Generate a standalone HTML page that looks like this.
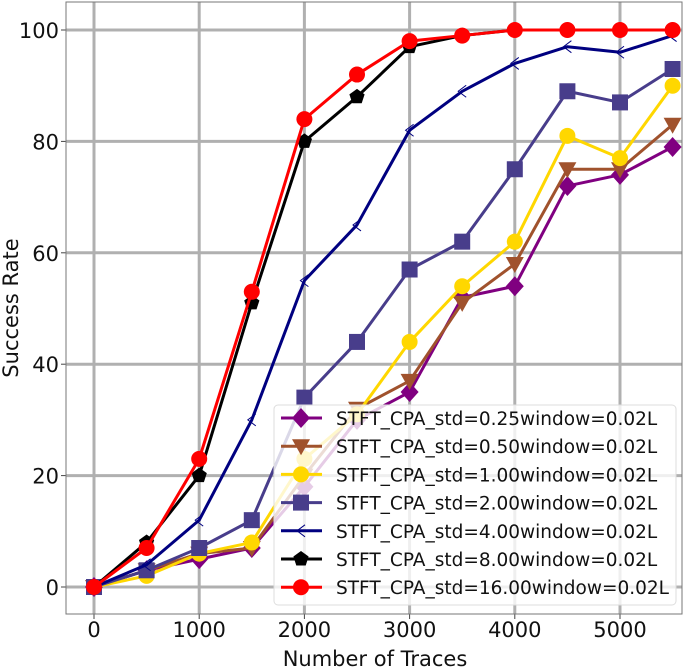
<!DOCTYPE html>
<html><head><meta charset="utf-8"><style>
html,body{margin:0;padding:0;background:#fff}
svg{display:block;font-family:"DejaVu Sans","Liberation Sans",sans-serif}
</style></head><body>
<svg id="chart" width="685" height="669" viewBox="0 0 685 669" xmlns="http://www.w3.org/2000/svg">
<g id="grid"></g>
<g id="axes"></g>
<g id="series"></g>
<g id="legend"></g>
<text x="375" y="666" font-size="21" text-anchor="middle" fill="#111">Number of Traces</text>
<text transform="translate(18,308) rotate(-90)" font-size="21" text-anchor="middle" fill="#111">Success Rate</text>
</svg>
<script>
const xValues = [0,500,1000,1500,2000,2500,3000,3500,4000,4500,5000,5500];
const xTicks = [0,1000,2000,3000,4000,5000];
const yTicks = [0,20,40,60,80,100];
const s025 = [0,3,5,7,18,30,35,52,54,72,74,79];
const s050 = [0,3,6,7,20,32,37,51,58,75,75,83];
const s100 = [0,2,6,8,23,31,44,54,62,81,77,90];
const s200 = [0,3,7,12,34,44,57,62,75,89,87,93];
const s400 = [0,4,12,30,55,65,82,89,94,97,96,99];
const s800 = [0,8,20,51,80,88,97,99,100,100,100,100];
const s1600 = [0,7,23,53,84,92,98,99,100,100,100,100];
const seriesLabels = ["STFT_CPA_std=0.25window=0.02L","STFT_CPA_std=0.50window=0.02L","STFT_CPA_std=1.00window=0.02L","STFT_CPA_std=2.00window=0.02L","STFT_CPA_std=4.00window=0.02L","STFT_CPA_std=8.00window=0.02L","STFT_CPA_std=16.00window=0.02L"];

const NS="http://www.w3.org/2000/svg";
const L=66,R=682,T=2,B=614;
function xs(v){return 94+v*(620-94)/5000;}
function ys(v){return 587-v*(587-30)/100;}
function mk(tag,attrs,parent){const e=document.createElementNS(NS,tag);for(const k in attrs)e.setAttribute(k,attrs[k]);parent.appendChild(e);return e;}
const grid=document.getElementById('grid'),axes=document.getElementById('axes'),ser=document.getElementById('series'),leg=document.getElementById('legend');
xTicks.forEach(t=>{
  const g=mk('line',{x1:xs(t),x2:xs(t),y1:T,y2:B,stroke:'#b0b0b0','stroke-width':3},grid);
  
  
  mk('line',{x1:xs(t),x2:xs(t),y1:B,y2:B+5,stroke:'#444','stroke-width':1},axes);
  const tx=mk('text',{x:xs(t),y:B+23,'font-size':21,'text-anchor':'middle',fill:'#111'},axes);
  tx.textContent=t;
  
  
});
yTicks.forEach(t=>{
  const g=mk('line',{x1:L,x2:R,y1:ys(t),y2:ys(t),stroke:'#b0b0b0','stroke-width':3},grid);
  
  
  mk('line',{x1:L-5,x2:L,y1:ys(t),y2:ys(t),stroke:'#444','stroke-width':1},axes);
  const tx=mk('text',{x:L-7,y:ys(t)+8,'font-size':21,'text-anchor':'end',fill:'#111'},axes);
  tx.textContent=t;
  
  
});
const fr=mk('rect',{x:L,y:T,width:R-L,height:B-T,fill:'none',stroke:'#777','stroke-width':1},axes);



function marker(type,cx,cy,color,parent){
  if(type==='diamond') return mk('polygon',{points:`${cx},${cy-10} ${cx+9},${cy} ${cx},${cy+10} ${cx-9},${cy}`,fill:color},parent);
  if(type==='tri') return mk('polygon',{points:`${cx-9},${cy-7} ${cx+9},${cy-7} ${cx},${cy+9}`,fill:color},parent);
  if(type==='circle') return mk('circle',{cx:cx,cy:cy,r:8,fill:color},parent);
  if(type==='square') return mk('rect',{x:cx-8,y:cy-8,width:16,height:16,fill:color},parent);
  if(type==='tick') return mk('path',{d:`M${cx+4},${cy-6} L${cx-4},${cy} L${cx+4},${cy+6}`,stroke:color,'stroke-width':1,fill:'none'},parent);
  if(type==='pent'){let p=[];for(let i=0;i<5;i++){const a=-Math.PI/2+i*2*Math.PI/5;p.push((cx+8*Math.cos(a))+','+(cy+8*Math.sin(a)));}return mk('polygon',{points:p.join(' '),fill:color},parent);}
}
const all=[
 {d:s025,c:'#800080',m:'diamond',n:'series-std-0-25'},
 {d:s050,c:'#a0522d',m:'tri',n:'series-std-0-50'},
 {d:s100,c:'#ffd700',m:'circle',n:'series-std-1-00'},
 {d:s200,c:'#483d8b',m:'square',n:'series-std-2-00'},
 {d:s400,c:'#000080',m:'tick',n:'series-std-4-00'},
 {d:s800,c:'#000000',m:'pent',n:'series-std-8-00'},
 {d:s1600,c:'#ff0000',m:'circle',n:'series-std-16-00'}
];
all.forEach(s=>{
  const g=mk('g',{},ser);
  
  
  const pl=mk('polyline',{points:s.d.map((v,i)=>xs(xValues[i])+','+ys(v)).join(' '),fill:'none',stroke:s.c,'stroke-width':3,'stroke-linejoin':'round'},g);
  
  
  s.d.forEach((v,i)=>{
    const m=marker(s.m,xs(xValues[i]),ys(v),s.c,g);
    
    
  });
});
const box=mk('rect',{x:274,y:405,width:402,height:200,rx:4,fill:'rgba(255,255,255,0.8)',stroke:'#ddd','stroke-width':1},leg);


all.forEach((s,i)=>{
  const y=418+i*28.2;
  const g=mk('g',{},leg);
  
  
  mk('line',{x1:281,x2:322,y1:y,y2:y,stroke:s.c,'stroke-width':3},g);
  marker(s.m,301,y,s.c,g);
  const t=mk('text',{x:336,y:y+7,'font-size':18.5,fill:'#111'},g);
  t.textContent=seriesLabels[i];
});
</script>
</body></html>
